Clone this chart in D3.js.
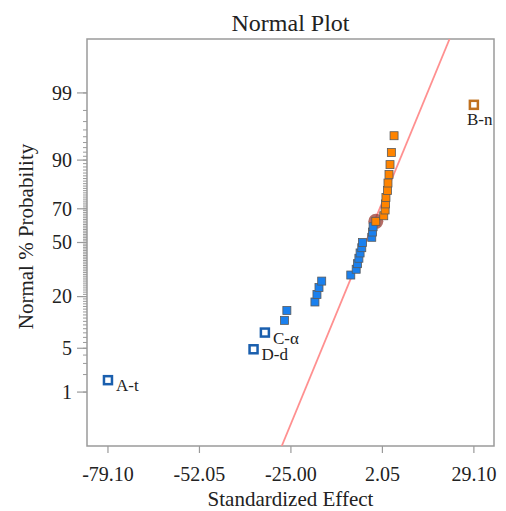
<!DOCTYPE html>
<html>
<head>
<meta charset="utf-8">
<script src="https://cdn.jsdelivr.net/npm/d3@7"></script>
<style>
  body { margin: 0; background: #fff; }
  text { font-family: "Liberation Serif", "Times New Roman", serif; fill: #222; }
</style>
</head>
<body>
<div id="chart"></div>
<script>
// standardized effects, sorted, one per term (31 terms)
var effects = [-79.10, -36.05, -32.70, -26.90, -26.20, -17.90, -17.30, -16.70, -15.90,
               -7.30, -5.70, -5.30, -4.90, -4.55, -4.05, -3.85, -1.10, -0.90, -0.70,
               0.10, 2.45, 2.85, 2.95, 3.10, 3.55, 3.70, 4.00, 4.30, 4.70, 5.50, 29.10];

// named terms (rank in the sorted list, 0 based)
var termNames = ["A-t", "D-d", "C-α", "B-n"];
var termRanks = [0, 1, 2, 30];

// the highlighted point
var markedRank = 19;

// tick labels
var xTicks = [-79.10, -52.05, -25.00, 2.05, 29.10];
var yTicks = [1, 5, 20, 50, 70, 90, 99];

// reference line: effect = lineMean + lineSd * z
var lineMean = -2.9, lineSd = 7.84;

var W = 506, H = 511;
var margin = {top: 39, right: 12, bottom: 65, left: 87};
var width = W - margin.left - margin.right,
    height = H - margin.top - margin.bottom;

// inverse normal cdf (Acklam)
function probit(p) {
  var a = [-3.969683028665376e+01, 2.209460984245205e+02, -2.759285104469687e+02, 1.383577518672690e+02, -3.066479806614716e+01, 2.506628277459239e+00];
  var b = [-5.447609879822406e+01, 1.615858368580409e+02, -1.556989798598866e+02, 6.680131188771972e+01, -1.328068155288572e+01];
  var c = [-7.784894002430293e-03, -3.223964580411365e-01, -2.400758277161838e+00, -2.549732539343734e+00, 4.374664141464968e+00, 2.938163982698783e+00];
  var d = [7.784695709041462e-03, 3.224671290700398e-01, 2.445134137142996e+00, 3.754408661907416e+00];
  var q, r;
  if (p < 0.02425) {
    q = Math.sqrt(-2 * Math.log(p));
    return (((((c[0]*q+c[1])*q+c[2])*q+c[3])*q+c[4])*q+c[5]) / ((((d[0]*q+d[1])*q+d[2])*q+d[3])*q+1);
  } else if (p > 1 - 0.02425) {
    q = Math.sqrt(-2 * Math.log(1 - p));
    return -(((((c[0]*q+c[1])*q+c[2])*q+c[3])*q+c[4])*q+c[5]) / ((((d[0]*q+d[1])*q+d[2])*q+d[3])*q+1);
  }
  q = p - 0.5; r = q * q;
  return (((((a[0]*r+a[1])*r+a[2])*r+a[3])*r+a[4])*r+a[5])*q / (((((b[0]*r+b[1])*r+b[2])*r+b[3])*r+b[4])*r+1);
}

var svg = d3.select("#chart").append("svg")
    .attr("width", W).attr("height", H)
  .append("g")
    .attr("transform", "translate(" + margin.left + "," + margin.top + ")");

var x = d3.scaleLinear().domain([-85.3, 35.05]).range([0, width]);
var y = d3.scaleLinear().domain([-3.165, 3.165]).range([height, 0]);

var n = effects.length;
var data = effects.map(function(v, i) {
  var k = termRanks.indexOf(i);
  return { v: v, z: probit((i + 0.5) / n), name: k >= 0 ? termNames[k] : null, rank: i };
});

// clip for the line
svg.append("clipPath").attr("id", "clip")
  .append("rect").attr("width", width).attr("height", height);

// y minor ticks every 1%
var minor = d3.range(1, 100);
svg.append("g").selectAll("line").data(minor).enter().append("line")
  .attr("x1", -4).attr("x2", 0)
  .attr("y1", function(p) { return y(probit(p / 100)); })
  .attr("y2", function(p) { return y(probit(p / 100)); })
  .style("stroke", "#9a9a9a").style("stroke-width", 1);

// y major ticks and labels
var yt = svg.append("g").selectAll("g").data(yTicks).enter().append("g")
  .attr("transform", function(p) { return "translate(0," + y(probit(p / 100)) + ")"; });
yt.append("line").attr("x1", -10).attr("x2", 0)
  .style("stroke", "#9a9a9a").style("stroke-width", 1.2);
yt.append("text").attr("x", -15).attr("dy", "0.34em")
  .attr("text-anchor", "end").style("font-size", "20px")
  .text(function(p) { return p; });

// x ticks
var xt = svg.append("g").selectAll("g").data(xTicks).enter().append("g")
  .attr("transform", function(v) { return "translate(" + x(v) + "," + height + ")"; });
xt.append("line").attr("y1", 0).attr("y2", 7)
  .style("stroke", "#9a9a9a").style("stroke-width", 1.2);
xt.append("text").attr("y", 35).attr("text-anchor", "middle")
  .style("font-size", "20px")
  .text(function(v) { return v.toFixed(2); });

// frame
svg.append("rect").attr("width", width).attr("height", height)
  .style("fill", "none").style("stroke", "#9a9a9a").style("stroke-width", 1.5);

// reference line
var zs = y.domain();
svg.append("line")
  .attr("clip-path", "url(#clip)")
  .attr("x1", x(lineMean + lineSd * zs[0])).attr("y1", y(zs[0]))
  .attr("x2", x(lineMean + lineSd * zs[1])).attr("y2", y(zs[1]))
  .style("stroke", "#ff9090").style("stroke-width", 1.8);

// marked point halo
var m = data[markedRank];
svg.append("circle").attr("cx", x(m.v)).attr("cy", y(m.z)).attr("r", 7.5)
  .style("fill", "#9c3b32").style("opacity", 0.75);

// points
var s = 8;
svg.append("g").selectAll("rect").data(data).enter().append("rect")
  .attr("x", function(d) { return x(d.v) - s / 2; })
  .attr("y", function(d) { return y(d.z) - s / 2; })
  .attr("width", s).attr("height", s)
  .style("fill", function(d) {
    if (d.name) return "#fff";
    return d.v < 0 ? "#1a80ee" : "#ff8400";
  })
  .style("stroke", function(d) {
    if (d.name) return d.v < 0 ? "#1a5fae" : "#c0701e";
    return "#5a5a5a";
  })
  .style("stroke-width", function(d) { return d.name ? 2.5 : 0.8; });

// term labels
svg.append("g").selectAll("text").data(data.filter(function(d) { return d.name; }))
  .enter().append("text")
  .attr("x", function(d) { return x(d.v) + (d.v > 0 ? -7 : 8); })
  .attr("y", function(d) { return y(d.z) + (d.v > 0 ? 20 : 11); })
  .style("font-size", "17px")
  .text(function(d) { return d.name; });

// title and axis labels
svg.append("text").attr("x", width / 2).attr("y", -8)
  .attr("text-anchor", "middle").style("font-size", "24px")
  .text("Normal Plot");

svg.append("text").attr("x", width / 2).attr("y", height + 60)
  .attr("text-anchor", "middle").style("font-size", "21px")
  .text("Standardized Effect");

svg.append("text")
  .attr("transform", "translate(-54," + (y(0) - 6) + ") rotate(-90)")
  .attr("text-anchor", "middle").style("font-size", "21px")
  .text("Normal % Probability");
</script>
</body>
</html>
